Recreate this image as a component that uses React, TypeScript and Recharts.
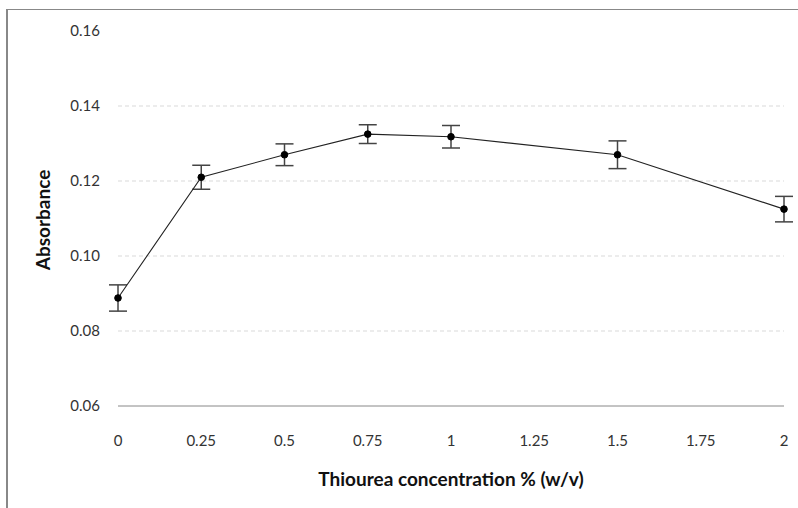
import { LineChart, Line, XAxis, YAxis, ErrorBar, ReferenceLine } from "recharts";

const concentrations = [0, 0.25, 0.5, 0.75, 1, 1.5, 2];
const absorbance = [0.0888, 0.121, 0.127, 0.1325, 0.1318, 0.127, 0.1125];
const sdev = [0.0035, 0.0032, 0.0029, 0.0025, 0.003, 0.0037, 0.0034];

const xTicks = [0, 0.25, 0.5, 0.75, 1, 1.25, 1.5, 1.75, 2];
const yTicks = [0.06, 0.08, 0.1, 0.12, 0.14, 0.16];
const gridLines = [0.08, 0.1, 0.12, 0.14];

const data = concentrations.map((c, i) => ({ conc: c, abs: absorbance[i], err: sdev[i] }));

const font = "Lato, 'Open Sans', sans-serif";

const App = () => {
  return (
    <div style={{ position: "absolute", left: 0, top: 0, width: 798, height: 508, background: "#fff" }}>
      <div
        style={{
          position: "absolute",
          left: 6,
          top: 9,
          right: 0,
          bottom: 0,
          borderTop: "1px solid #888",
          borderLeft: "2px solid #888",
        }}
      />
      <LineChart
        width={798}
        height={508}
        data={data}
        margin={{ top: 31, right: 14, bottom: 0, left: 0 }}
        style={{ position: "absolute", left: 0, top: 0, fontFamily: font }}
      >
        {gridLines.map((v) => (
          <ReferenceLine key={v} y={v} stroke="#d9d9d9" strokeDasharray="4 3" />
        ))}
        <XAxis
          dataKey="conc"
          type="number"
          domain={[0, 2]}
          ticks={xTicks}
          height={102}
          axisLine={{ stroke: "#888" }}
          tickLine={false}
          tickSize={0}
          tickMargin={29}
          tick={{ fill: "#333", fontSize: 15 }}
          label={{
            value: "Thiourea concentration % (w/v)",
            position: "insideBottom",
            offset: 22,
            fill: "#111",
            fontSize: 19,
            fontWeight: "bold",
          }}
        />
        <YAxis
          type="number"
          domain={[0.06, 0.16]}
          ticks={yTicks}
          width={118}
          axisLine={false}
          tickLine={false}
          tickSize={0}
          tickMargin={18}
          tick={{ fill: "#333", fontSize: 15 }}
          tickFormatter={(v: number) => v.toFixed(2)}
        />
        <Line
          dataKey="abs"
          stroke="#222"
          strokeWidth={1.1}
          dot={{ r: 3.3, fill: "#000", stroke: "#000", strokeWidth: 1 }}
          isAnimationActive={false}
        >
          <ErrorBar dataKey="err" direction="y" width={9} stroke="#444" strokeWidth={1.5} />
        </Line>
        <text
          x={45}
          y={220}
          transform="rotate(-90 45 220)"
          textAnchor="middle"
          dominantBaseline="middle"
          fontSize={19}
          fontWeight="bold"
          fill="#111"
          fontFamily={font}
        >
          Absorbance
        </text>
      </LineChart>
    </div>
  );
};

export default App;
